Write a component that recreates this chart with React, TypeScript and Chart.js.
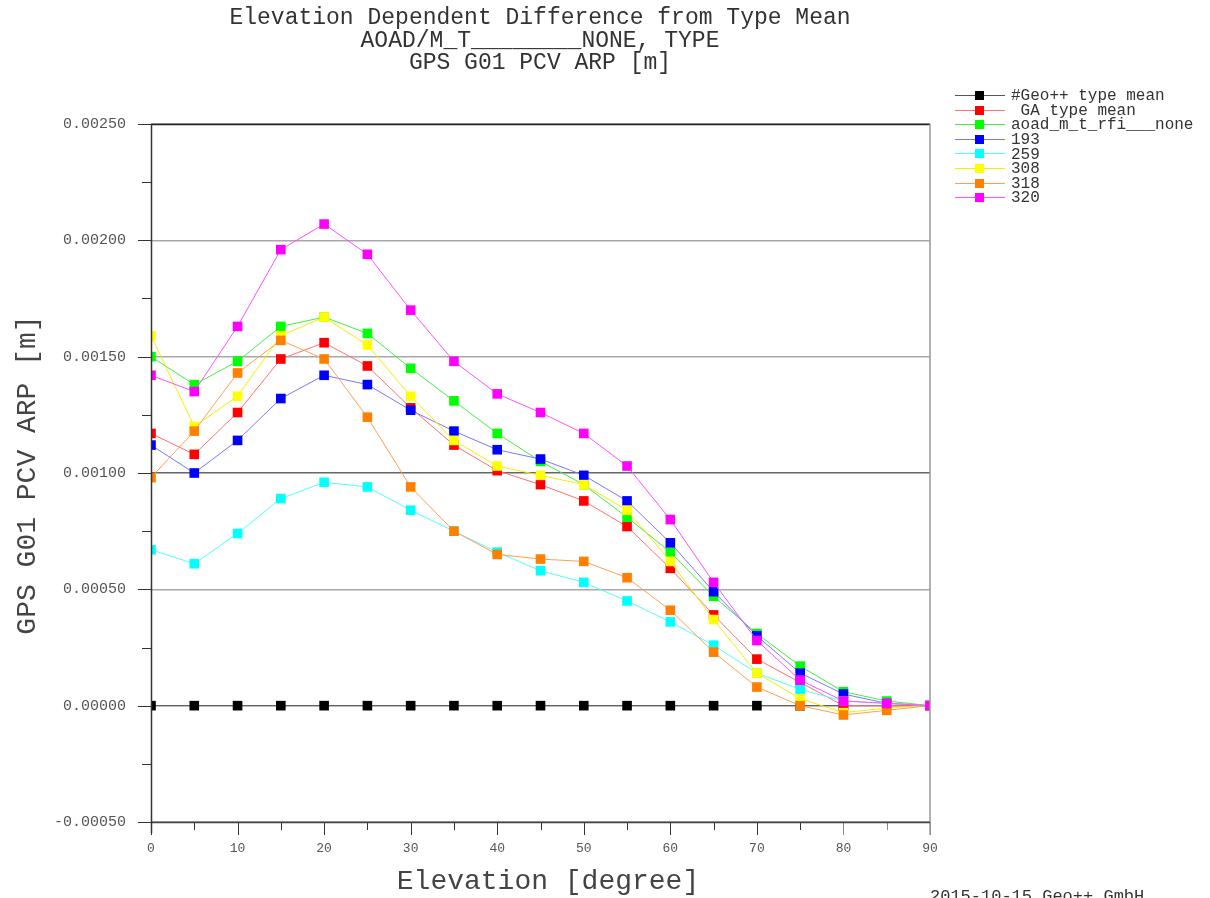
import React, { useEffect, useRef } from "react";
import { Chart, registerables } from "chart.js";

Chart.register(...registerables);

const elevations = [0, 5, 10, 15, 20, 25, 30, 35, 40, 45, 50, 55, 60, 65, 70, 75, 80, 85, 90];

const geoTypeMean = [0, 0, 0, 0, 0, 0, 0, 0, 0, 0, 0, 0, 0, 0, 0, 0, 0, 0, 0];
const gaTypeMean = [0.00117, 0.00108, 0.00126, 0.00149, 0.00156, 0.00146, 0.00128, 0.00112, 0.00101, 0.00095, 0.00088, 0.00077, 0.00059, 0.00039, 0.0002, 0.0001, 0.0, 0.0, 0.0];
const aoadNone = [0.0015, 0.00138, 0.00148, 0.00163, 0.00167, 0.0016, 0.00145, 0.00131, 0.00117, 0.00105, 0.00095, 0.00081, 0.00066, 0.00047, 0.00031, 0.00017, 0.00006, 0.00002, 0.0];
const s193 = [0.00112, 0.001, 0.00114, 0.00132, 0.00142, 0.00138, 0.00127, 0.00118, 0.0011, 0.00106, 0.00099, 0.00088, 0.0007, 0.00049, 0.0003, 0.00014, 0.00005, 0.00001, 0.0];
const s259 = [0.00067, 0.00061, 0.00074, 0.00089, 0.00096, 0.00094, 0.00084, 0.00075, 0.00066, 0.00058, 0.00053, 0.00045, 0.00036, 0.00026, 0.00014, 0.00007, 0.00002, 0.00001, 0.0];
const s308 = [0.00159, 0.0012, 0.00133, 0.00159, 0.00167, 0.00155, 0.00133, 0.00114, 0.00103, 0.00099, 0.00095, 0.00084, 0.00062, 0.00037, 0.00014, 0.00003, -0.00003, -0.00001, 0.0];
const s318 = [0.00098, 0.00118, 0.00143, 0.00157, 0.00149, 0.00124, 0.00094, 0.00075, 0.00065, 0.00063, 0.00062, 0.00055, 0.00041, 0.00023, 0.00008, 0.0, -0.00004, -0.00002, 0.0];
const s320 = [0.00142, 0.00135, 0.00163, 0.00196, 0.00207, 0.00194, 0.0017, 0.00148, 0.00134, 0.00126, 0.00117, 0.00103, 0.0008, 0.00053, 0.00028, 0.00011, 0.00002, 0.00001, 0.0];

const seriesLabels = ["#Geo++ type mean", " GA type mean", "aoad_m_t_rfi___none", "193", "259", "308", "318", "320"];
const seriesValues = [geoTypeMean, gaTypeMean, aoadNone, s193, s259, s308, s318, s320];
const markerColors = ["#000000", "#ff0000", "#00ff00", "#0000ff", "#00ffff", "#ffff00", "#ff8000", "#ff00ff"];
const lineColors = ["#555555", "#ff7070", "#40f040", "#7878ff", "#50ffff", "#f0f000", "#ffa050", "#ff50ff"];

const titleLines = ["Elevation Dependent Difference from Type Mean", "AOAD/M_T________NONE, TYPE", "GPS G01 PCV ARP [m]"];
const yTitle = "GPS G01 PCV ARP [m]";
const xTitle = "Elevation [degree]";
const footer = "2015-10-15 Geo++ GmbH";

const FONT = '"Liberation Mono", "DejaVu Sans Mono", monospace';

const isMajorY = (v: number) => Math.abs(v / 0.0005 - Math.round(v / 0.0005)) < 1e-6;

const decorPlugin = {
  id: "decor",
  beforeDatasetsDraw(chart: any) {
    const ctx = chart.ctx;
    const area = chart.chartArea;
    const xs = chart.scales.x;
    const ys = chart.scales.y;
    ctx.save();
    ctx.lineWidth = 1;
    ctx.strokeStyle = "#333";
    ys.ticks.forEach((t: any) => {
      const py = Math.round(ys.getPixelForValue(t.value)) + 0.5;
      const len = isMajorY(t.value) ? 13 : 9;
      ctx.beginPath();
      ctx.moveTo(area.left - len, py);
      ctx.lineTo(area.left, py);
      ctx.stroke();
    });
    xs.ticks.forEach((t: any) => {
      const px = Math.round(xs.getPixelForValue(t.value)) + 0.5;
      const len = t.value % 10 === 0 ? 13 : 8;
      ctx.strokeStyle = t.value >= 80 ? "#888" : "#333";
      ctx.beginPath();
      ctx.moveTo(px, area.bottom);
      ctx.lineTo(px, area.bottom + len);
      ctx.stroke();
    });
    ctx.restore();
  },
  afterDatasetsDraw(chart: any) {
    const ctx = chart.ctx;
    const a = chart.chartArea;
    ctx.save();
    ctx.lineWidth = 1.5;
    ctx.strokeStyle = "#222";
    ctx.beginPath();
    ctx.moveTo(a.left, a.top + 0.5);
    ctx.lineTo(a.right, a.top + 0.5);
    ctx.stroke();
    ctx.strokeStyle = "#999";
    ctx.beginPath();
    ctx.moveTo(a.right, a.top);
    ctx.lineTo(a.right, a.bottom + 13);
    ctx.stroke();
    ctx.strokeStyle = "#444";
    ctx.beginPath();
    ctx.moveTo(a.left, a.bottom + 0.5);
    ctx.lineTo(a.right, a.bottom + 0.5);
    ctx.stroke();
    ctx.strokeStyle = "#333";
    ctx.beginPath();
    ctx.moveTo(a.left + 0.5, a.top);
    ctx.lineTo(a.left + 0.5, a.bottom + 11);
    ctx.stroke();
    ctx.restore();
  },
  afterDraw(chart: any) {
    const ctx = chart.ctx;
    ctx.save();
    ctx.fillStyle = "#333";
    ctx.textAlign = "center";
    ctx.textBaseline = "middle";
    ctx.font = `23px ${FONT}`;
    const ty = [18, 41, 63];
    titleLines.forEach((t, i) => ctx.fillText(t, 540, ty[i]));

    ctx.fillStyle = "#444";
    ctx.font = `28px ${FONT}`;
    ctx.fillText(xTitle, 548, 882);
    ctx.save();
    ctx.translate(28, 475);
    ctx.rotate(-Math.PI / 2);
    ctx.fillText(yTitle, 0, 0);
    ctx.restore();

    ctx.font = `17px ${FONT}`;
    ctx.textAlign = "left";
    ctx.textBaseline = "top";
    ctx.fillStyle = "#333";
    ctx.fillText(footer, 930, 888);

    ctx.font = `16px ${FONT}`;
    ctx.textBaseline = "middle";
    chart.data.datasets.forEach((ds: any, i: number) => {
      const y = 95 + i * 14.6;
      ctx.strokeStyle = ds.borderColor;
      ctx.lineWidth = 1;
      ctx.beginPath();
      ctx.moveTo(955, Math.round(y) + 0.5);
      ctx.lineTo(1005, Math.round(y) + 0.5);
      ctx.stroke();
      ctx.fillStyle = ds.pointBackgroundColor;
      ctx.fillRect(975, Math.round(y) - 4, 9, 9);
      ctx.fillStyle = "#333";
      ctx.fillText(ds.label, 1011, y + 1);
    });
    ctx.restore();
  },
};

export default function App() {
  const ref = useRef<HTMLCanvasElement | null>(null);
  useEffect(() => {
    document.body.style.margin = "0";
    const canvas = ref.current;
    if (!canvas) return;
    const datasets = seriesValues.map((vals, i) => ({
      label: seriesLabels[i],
      data: vals.map((v, j) => ({ x: elevations[j], y: v })),
      borderColor: lineColors[i],
      backgroundColor: markerColors[i],
      pointBackgroundColor: markerColors[i],
      pointBorderColor: markerColors[i],
      pointBorderWidth: 0,
      pointStyle: "rect",
      pointRadius: 6.8,
      borderWidth: 1,
      tension: 0,
      fill: false,
      clip: { left: 0, top: 10, right: 0, bottom: 10 },
      order: seriesValues.length - i,
    }));
    const chart = new Chart(canvas, {
      type: "line",
      data: { datasets },
      plugins: [decorPlugin],
      options: {
        animation: false,
        responsive: false,
        events: [],
        layout: { padding: { left: 0, top: 124, right: 280, bottom: 0 } },
        plugins: { legend: { display: false }, title: { display: false }, tooltip: { enabled: false } },
        scales: {
          x: {
            type: "linear",
            min: 0,
            max: 90,
            afterFit: (s: any) => { s.height = 76; },
            border: { display: false },
            grid: { drawOnChartArea: false, drawTicks: false },
            ticks: {
              stepSize: 5,
              autoSkip: false,
              maxRotation: 0,
              padding: 19,
              color: "#555",
              font: { family: FONT, size: 13 },
              callback: (v: any) => (Number(v) % 10 === 0 ? String(v) : ""),
            },
          },
          y: {
            type: "linear",
            min: -0.0005,
            max: 0.0025,
            afterFit: (s: any) => { s.width = 151; },
            border: { display: false },
            grid: {
              drawTicks: false,
              lineWidth: 1.5,
              color: (c: any) => {
                const v = c.tick ? c.tick.value : 0;
                if (!isMajorY(v)) return "rgba(0,0,0,0)";
                if (Math.abs(v - 0.001) < 1e-7) return "#666";
                return "#a8a8a8";
              },
            },
            ticks: {
              stepSize: 0.00025,
              autoSkip: false,
              padding: 25,
              color: "#555",
              font: { family: FONT, size: 15 },
              callback: (v: any) => (isMajorY(Number(v)) ? Number(v).toFixed(5) : ""),
            },
          },
        },
      },
    } as any);
    return () => chart.destroy();
  }, []);
  return (
    <div style={{ position: "absolute", left: 0, top: 0, width: 1210, height: 898, background: "#fff" }}>
      <canvas ref={ref} width={1210} height={898} style={{ display: "block" }} />
    </div>
  );
}
